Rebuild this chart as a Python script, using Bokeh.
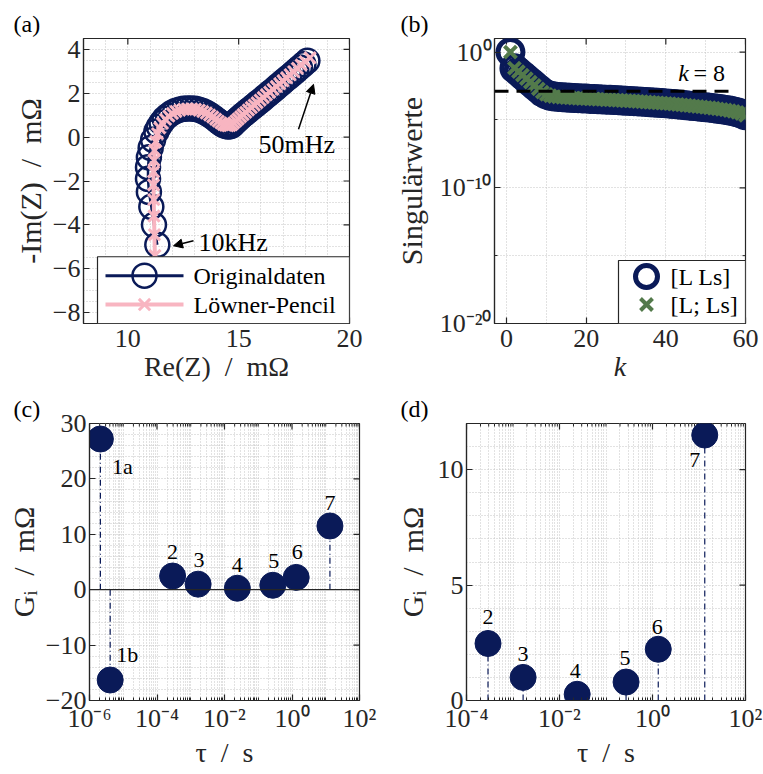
import json
import numpy as np
from bokeh.plotting import figure
from bokeh.layouts import column, row
from bokeh.models import (Range1d, FixedTicker, Label, Arrow, NormalHead, BoxAnnotation,
                          Span, CustomJSTickFormatter, ColumnDataSource)
from bokeh.core.properties import value
from bokeh.embed import file_html
from bokeh.resources import INLINE

# ------------------------------------------------------------------ data
# (a) Nyquist plot, values in mOhm (Re(Z), -Im(Z)), 10 kHz ... 50 mHz
re_orig = [11.33, 11.18, 11.06, 10.95, 10.91, 10.91, 10.95, 11.03, 11.14, 11.29,
           11.40, 11.52, 11.66, 11.81, 11.97, 12.14, 12.32, 12.50, 12.68, 12.86,
           13.04, 13.21, 13.38, 13.54, 13.69, 13.83, 13.96, 14.08, 14.20, 14.31,
           14.42, 14.52, 14.61, 14.69,
           14.77, 14.86, 14.96, 15.07, 15.18, 15.30, 15.42, 15.55, 15.68, 15.81,
           15.95, 16.09, 16.23, 16.37, 16.52, 16.67, 16.82, 16.97, 17.12, 17.28,
           17.44, 17.60, 17.76, 17.92, 18.10]
im_orig = [-4.91, -4.00, -3.18, -2.50, -1.90, -1.37, -0.92, -0.49, -0.12, 0.26,
           0.47, 0.66, 0.84, 0.98, 1.10, 1.19, 1.25, 1.29, 1.31, 1.31,
           1.29, 1.25, 1.19, 1.11, 1.02, 0.92, 0.82, 0.72, 0.63, 0.56,
           0.51, 0.49, 0.50, 0.54,
           0.62, 0.71, 0.80, 0.90, 1.00, 1.10, 1.20, 1.30, 1.41, 1.52,
           1.63, 1.75, 1.87, 1.99, 2.11, 2.24, 2.37, 2.50, 2.63, 2.76,
           2.90, 3.04, 3.18, 3.32, 3.48]
re_lp = [11.22, 11.20, 11.18, 11.17, 11.16, 11.16, 11.18, 11.21, 11.26, 11.34,
         11.44, 11.56, 11.70, 11.85, 12.01, 12.17, 12.34, 12.52, 12.70, 12.88,
         13.05, 13.22, 13.38, 13.54, 13.69, 13.83, 13.96, 14.08, 14.20, 14.31,
         14.41, 14.51, 14.60, 14.69,
         14.78, 14.88, 14.98, 15.09, 15.20, 15.32, 15.44, 15.57, 15.70, 15.83,
         15.97, 16.11, 16.25, 16.40, 16.55, 16.70, 16.85, 17.00, 17.16, 17.32,
         17.48, 17.65, 17.82, 18.00, 18.22]
im_lp = [-5.40, -4.45, -3.60, -2.85, -2.18, -1.58, -1.06, -0.60, -0.20, 0.16,
         0.42, 0.63, 0.81, 0.96, 1.08, 1.17, 1.23, 1.27, 1.29, 1.29,
         1.27, 1.23, 1.17, 1.10, 1.01, 0.92, 0.82, 0.73, 0.65, 0.58,
         0.54, 0.52, 0.53, 0.57,
         0.65, 0.74, 0.83, 0.93, 1.03, 1.13, 1.24, 1.35, 1.46, 1.57,
         1.69, 1.81, 1.93, 2.05, 2.18, 2.31, 2.44, 2.57, 2.71, 2.85,
         2.99, 3.14, 3.29, 3.44, 3.62]

# (b) singular values (log10), k = 1..60
k_idx = list(range(1, 61))
sv_LLs_log10 = [0.00, -1.20, -1.45, -1.70, -1.95, -2.20, -2.45, -2.70, -2.95, -3.12,
                -3.22, -3.28, -3.31, -3.33, -3.35, -3.37, -3.39, -3.40, -3.42, -3.43,
                -3.45, -3.46, -3.48, -3.49, -3.51, -3.52, -3.54, -3.55, -3.57, -3.59,
                -3.60, -3.62, -3.64, -3.66, -3.68, -3.70, -3.72, -3.74, -3.76, -3.78,
                -3.80, -3.83, -3.86, -3.89, -3.92, -3.95, -3.98, -4.01, -4.04, -4.07,
                -4.10, -4.14, -4.18, -4.22, -4.26, -4.31, -4.37, -4.44, -4.53, -4.66]
sv_L_Ls_log10 = [0.00, -1.18, -1.44, -1.70, -1.96, -2.21, -2.46, -2.71, -2.95, -3.12,
                 -3.22, -3.28, -3.31, -3.33, -3.35, -3.37, -3.39, -3.40, -3.42, -3.43,
                 -3.45, -3.46, -3.48, -3.49, -3.51, -3.52, -3.54, -3.55, -3.57, -3.59,
                 -3.60, -3.62, -3.64, -3.66, -3.68, -3.70, -3.72, -3.74, -3.76, -3.78,
                 -3.80, -3.83, -3.86, -3.89, -3.92, -3.95, -3.98, -4.01, -4.04, -4.07,
                 -4.10, -4.14, -4.18, -4.22, -4.26, -4.31, -4.37, -4.44, -4.53, -4.66]
k_cut = 8
sv_cut = 1.3e-3
cut_k_extent = [-3, 57.5]

# (c), (d) distribution of relaxation times
drt_names = ["1a", "1b", "2", "3", "4", "5", "6", "7"]
drt_tau = [2.1e-6, 4.1e-6, 2.9e-4, 1.65e-3, 2.4e-2, 0.27, 1.33, 13.3]
drt_G = [27.2, -16.3, 2.47, 1.0, 0.27, 0.8, 2.22, 11.5]

# ------------------------------------------------------------------ style
FONT = "Liberation Serif"
NAVY = "#0a1a58"
PINK = "#f8b5c1"
GREEN = "#537a4b"
AXC = "#262626"
GRIDC = "#c4c4c4"
SP = "\u2002"

SUP = {"-": "\u207b", "0": "\u2070", "1": "\u00b9", "2": "\u00b2", "3": "\u00b3",
       "4": "\u2074", "5": "\u2075", "6": "\u2076", "7": "\u2077", "8": "\u2078",
       "9": "\u2079"}


def pow10_fmt():
    return CustomJSTickFormatter(code="""
const m = %s;
const e = Math.round(Math.log10(tick));
return "10" + String(e).split("").map(c => m[c]).join("");
""" % json.dumps(SUP))


def mapper(lo, hi, n, log=False, flip=False):
    def f(px):
        t = px / n
        if flip:
            t = 1.0 - t
        if log:
            return 10 ** (np.log10(lo) + t * (np.log10(hi) - np.log10(lo)))
        return lo + t * (hi - lo)
    return f


def make_fig(w, h, l, r, t, b, xr, yr, letter, title_x, xlog=False, ylog=False):
    p = figure(width=w, height=h, x_range=Range1d(*xr), y_range=Range1d(*yr),
               x_axis_type="log" if xlog else "linear",
               y_axis_type="log" if ylog else "linear",
               output_backend="svg", toolbar_location=None,
               min_border_left=l, min_border_right=r,
               min_border_top=t, min_border_bottom=b)
    p.background_fill_color = "white"
    p.border_fill_color = "white"
    p.outline_line_color = AXC
    p.outline_line_width = 1.2
    p.title.text = letter
    p.title.text_font = FONT
    p.title.text_font_size = "24px"
    p.title.text_font_style = "normal"
    p.title.text_color = "black"
    p.title.align = "left"
    p.title.offset = title_x - l
    p.title.standoff = 3
    return p


def style_axes(p, xt, yt, xr, yr, xlog=False, ylog=False, xlabel="", ylabel="",
               xfmt=None, yfmt=None, x_std=(6, 1), y_std=(3, 3)):
    xa, ya = p.below[0], p.left[0]
    xa.ticker = xt
    ya.ticker = yt
    p.xgrid[0].ticker = xt
    p.ygrid[0].ticker = yt
    if xfmt is not None:
        xa.formatter = xfmt
    if yfmt is not None:
        ya.formatter = yfmt
    xa.axis_label = xlabel
    ya.axis_label = ylabel
    for ax, islog in ((xa, xlog), (ya, ylog)):
        ax.axis_line_color = AXC
        ax.axis_line_width = 1.2
        ax.major_tick_line_color = AXC
        ax.minor_tick_line_color = AXC
        ax.major_tick_line_width = 1.2
        ax.major_tick_in = 6
        ax.major_tick_out = 0
        ax.minor_tick_in = 3 if islog else 0
        ax.minor_tick_out = 0
        ax.major_label_text_font = FONT
        ax.major_label_text_font_size = "26px"
        ax.major_label_text_color = AXC
        ax.axis_label_text_font = FONT
        ax.axis_label_text_color = AXC
        ax.axis_label_text_font_style = "normal"
    xa.axis_label_text_font_size = "28px"
    ya.axis_label_text_font_size = "30px"
    xa.major_label_standoff, xa.axis_label_standoff = x_std
    ya.major_label_standoff, ya.axis_label_standoff = y_std
    # mirrored inward ticks on top and right edge
    p.ray(x=list(xt.ticks), y=[yr[1]] * len(xt.ticks), length=6, length_units="screen",
          angle=-np.pi / 2, line_color=AXC, line_width=1.2)
    p.ray(x=[xr[1]] * len(yt.ticks), y=list(yt.ticks), length=6, length_units="screen",
          angle=np.pi, line_color=AXC, line_width=1.2)
    if xlog:
        mt = list(xt.minor_ticks)
        p.ray(x=mt, y=[yr[1]] * len(mt), length=3, length_units="screen",
              angle=-np.pi / 2, line_color=AXC, line_width=1)
    if ylog:
        mt = list(yt.minor_ticks)
        p.ray(x=[xr[1]] * len(mt), y=mt, length=3, length_units="screen",
              angle=np.pi, line_color=AXC, line_width=1)
    for g in (p.xgrid[0], p.ygrid[0]):
        g.grid_line_color = GRIDC
        g.grid_line_dash = "1 2"
        g.grid_line_width = 1
        g.minor_grid_line_color = GRIDC
        g.minor_grid_line_dash = "1 2"
        g.minor_grid_line_width = 1
    return xa, ya


def label(p, x, y, s, size="24px", align="left", style="normal", level="annotation"):
    lb = Label(x=x, y=y, text=s, text_font=FONT, text_font_size=size,
               text_align=align, text_baseline="middle", text_font_style=style,
               text_color="black", level=level)
    p.add_layout(lb)
    return lb


# ------------------------------------------------------------------ (a)
AW, AH = 266, 286
XR_A, YR_A = (8, 20), (-8.5, 4.5)
pa = make_fig(380, 390, 83, 31, 37, 67, XR_A, YR_A, "(a)", 13)
ax_a = mapper(*XR_A, AW)
ay_a = mapper(*YR_A, AH, flip=True)
style_axes(pa,
           FixedTicker(ticks=[10, 15, 20], minor_ticks=[v for v in range(8, 21) if v % 5]),
           FixedTicker(ticks=list(range(-8, 5, 2)),
                       minor_ticks=[float(v) for v in np.arange(-8.5, 4.6, 0.5) if v % 2]),
           XR_A, YR_A, xlabel="Re(Z)" + SP + "/" + SP + "m\u03a9",
           ylabel="-Im(Z)" + SP + "/" + SP + "m\u03a9", y_std=(3, 3))

src_o = ColumnDataSource(dict(x=re_orig, y=im_orig))
src_l = ColumnDataSource(dict(x=re_lp, y=im_lp))
pa.line("x", "y", source=src_o, line_color=NAVY, line_width=2.5)
pa.scatter("x", "y", source=src_o, marker="circle", size=24, fill_color=None,
           line_color=NAVY, line_width=2.5)
pa.line("x", "y", source=src_l, line_color=PINK, line_width=4)
pa.scatter("x", "y", source=src_l, marker="x", size=16, line_color=PINK, line_width=3)

pa.add_layout(Arrow(end=NormalHead(size=9, fill_color="black", line_color="black"),
                    x_start=ax_a(215), y_start=ay_a(91), x_end=ax_a(230), y_end=ay_a(46),
                    line_color="black", line_width=1.5))
label(pa, ax_a(175), ay_a(106), "50mHz", size="26px")
pa.add_layout(Arrow(end=NormalHead(size=9, fill_color="black", line_color="black"),
                    x_start=ax_a(110), y_start=ay_a(203), x_end=ax_a(90), y_end=ay_a(208),
                    line_color="black", line_width=1.5))
label(pa, ax_a(115), ay_a(205), "10kHz", size="26px")

# legend (a)
pa.add_layout(BoxAnnotation(left=ax_a(14), right=ax_a(AW), top=ay_a(219), bottom=ay_a(AH),
                            fill_color="white", fill_alpha=1, line_color=AXC,
                            line_width=1.2, line_alpha=1))
r1, r2 = ay_a(238), ay_a(267)
pa.line([ax_a(22), ax_a(100)], [r1, r1], line_color=NAVY, line_width=3, level="overlay")
pa.scatter([ax_a(61)], [r1], marker="circle", size=24, fill_color=None,
           line_color=NAVY, line_width=2.5, level="overlay")
pa.line([ax_a(22), ax_a(100)], [r2, r2], line_color=PINK, line_width=4, level="overlay")
pa.scatter([ax_a(61)], [r2], marker="x", size=16, line_color=PINK, line_width=3,
           level="overlay")
label(pa, ax_a(110), r1, "Originaldaten", level="overlay")
label(pa, ax_a(110), r2, "L\u00f6wner-Pencil", level="overlay")

# ------------------------------------------------------------------ (b)
BW, BH = 251, 285
XR_B, YR_B = (-3, 60), (1e-20, 1e1)
pb = make_fig(383, 390, 114, 18, 38, 67, XR_B, YR_B, "(b)", 20, ylog=True)
ax_b = mapper(*XR_B, BW)
ay_b = mapper(*YR_B, BH, log=True, flip=True)
xb, yb = style_axes(pb,
                    FixedTicker(ticks=[0, 20, 40, 60], minor_ticks=[10, 30, 50]),
                    FixedTicker(ticks=[1e-20, 1e-10, 1e0], minor_ticks=[1e-15, 1e-5]),
                    XR_B, YR_B, ylog=True, xlabel="k", ylabel="Singul\u00e4rwerte",
                    yfmt=pow10_fmt(), y_std=(3, 9))
xb.axis_label_text_font_style = "italic"

src_b = ColumnDataSource(dict(k=k_idx,
                              s1=[10 ** v for v in sv_LLs_log10],
                              s2=[10 ** v for v in sv_L_Ls_log10]))
pb.scatter("k", "s1", source=src_b, marker="circle", size=25, fill_color=None,
           line_color=NAVY, line_width=5)
pb.scatter("k", "s2", source=src_b, marker="x", size=17, line_color=GREEN, line_width=4)
pb.line(cut_k_extent, [sv_cut, sv_cut], line_color="black", line_width=3,
        line_dash="14 8")
label(pb, ax_b(183.7), ay_b(34.7), "k", size="24px", style="italic")
label(pb, ax_b(199), ay_b(34.7), "= 8", size="24px")

# legend (b)
pb.add_layout(BoxAnnotation(left=ax_b(124), right=ax_b(BW), top=ay_b(222), bottom=ay_b(BH),
                            fill_color="white", fill_alpha=1, line_color=AXC,
                            line_width=1.2, line_alpha=1))
q1, q2 = ay_b(238), ay_b(266)
pb.scatter([ax_b(152)], [q1], marker="circle", size=22, fill_color=None,
           line_color=NAVY, line_width=5, level="overlay")
pb.scatter([ax_b(152)], [q2], marker="x", size=17, line_color=GREEN, line_width=4,
           level="overlay")
label(pb, ax_b(176), q1, "[L Ls]", level="overlay")
label(pb, ax_b(176), q2, "[L; Ls]", level="overlay")


# ------------------------------------------------------------------ (c), (d)
def log_minor(e0, e1):
    return [m * 10.0 ** e for e in range(e0, e1) for m in range(2, 10)] + \
           [10.0 ** e for e in range(e0 + 1, e1, 2)]


def drt_panel(names, tau, G, dx, dy, xr, yr, yt, letter, l, r, t, b, width, title_x,
              ystd):
    p = make_fig(width, 384, l, r, t, b, xr, yr, letter, title_x, xlog=True)
    e0, e1 = int(round(np.log10(xr[0]))), int(round(np.log10(xr[1])))
    style_axes(p,
               FixedTicker(ticks=[10.0 ** e for e in range(e0, e1 + 1, 2)],
                           minor_ticks=log_minor(e0, e1)),
               yt, xr, yr, xlog=True, xlabel="\u03c4" + SP + "/" + SP + "s",
               ylabel="G\u1d62" + SP + "/" + SP + "m\u03a9", xfmt=pow10_fmt(),
               x_std=(3, 1), y_std=ystd)
    src = ColumnDataSource(dict(tau=tau, G=G, zero=[0] * len(G), name=names,
                                dx=dx, dy=dy))
    p.segment(x0="tau", y0="zero", x1="tau", y1="G", source=src, line_color=NAVY,
              line_width=1.2, line_dash="6 3 1 3")
    p.scatter("tau", "G", source=src, marker="circle", size=26, fill_color=NAVY,
              line_color=NAVY, line_width=1)
    p.text("tau", "G", text="name", source=src, x_offset="dx", y_offset="dy",
           text_font=value(FONT), text_font_size="22px", text_align="center",
           text_baseline="middle", text_color="black")
    return p


pc = drt_panel(drt_names, drt_tau, drt_G,
               [22, 17, 0, 1, 0, 1, 1, 0], [27, -26, -24, -24, -23, -24, -25, -23],
               (1e-6, 1e2), (-20, 30),
               FixedTicker(ticks=list(range(-20, 31, 10)),
                           minor_ticks=[v for v in range(-20, 31, 2) if v % 10]),
               "(c)", 89, 21, 33, 73, 380, 13, (3, 3))
pc.add_layout(Span(location=0, dimension="width", line_color=AXC, line_width=1.2))

pd_ = drt_panel(drt_names[2:], drt_tau[2:], drt_G[2:],
                [0, 0, -2, -1, -1, -10], [-26, -23, -23, -24, -22, 25],
                (1e-4, 1e2), (0, 12),
                FixedTicker(ticks=[0, 5, 10],
                            minor_ticks=[v for v in range(0, 13) if v % 5]),
                "(d)", 86, 18, 33, 74, 383, 20, (3, 6))

layout = column(row(pa, pb), row(pc, pd_))
html = file_html(layout, INLINE, "Figure")
with open("out.html", "w", encoding="utf-8") as f:
    f.write(html)
